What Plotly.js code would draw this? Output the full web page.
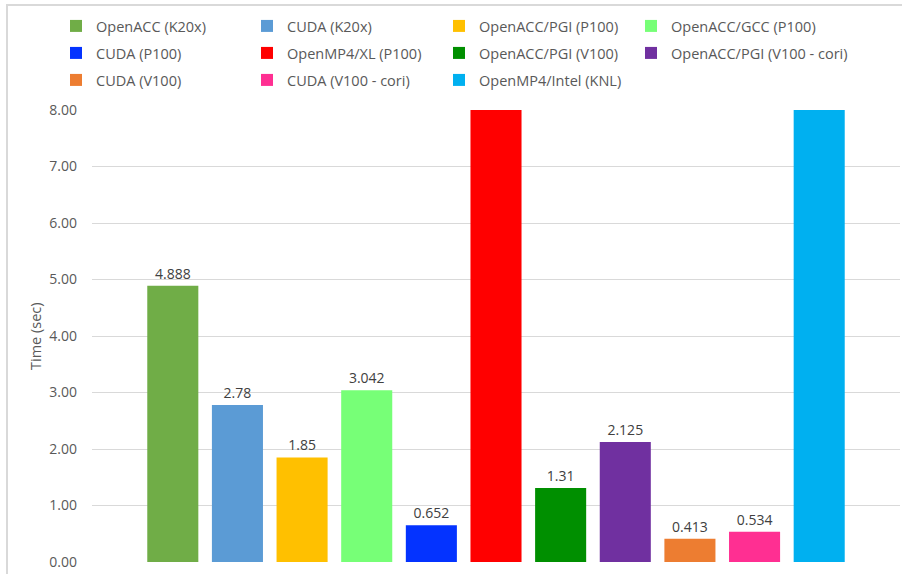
<!DOCTYPE html>
<html>
<head>
<meta charset="utf-8">
<script src="https://cdn.plot.ly/plotly-3.0.1.min.js"></script>
<style>html,body{margin:0;padding:0;background:#fff;}#chart{width:902px;height:574px;}</style>
</head>
<body>
<div id="chart"></div>
<script>
// Data
const seriesNames = [
  "OpenACC (K20x)", "CUDA (K20x)", "OpenACC/PGI (P100)", "OpenACC/GCC (P100)",
  "CUDA (P100)", "OpenMP4/XL (P100)", "OpenACC/PGI (V100)", "OpenACC/PGI (V100 - cori)",
  "CUDA (V100)", "CUDA (V100 - cori)", "OpenMP4/Intel (KNL)"
];
// The two off-scale bars are clipped at 8.00 in the reference; values above are estimates.
const timesSec = [4.888, 2.78, 1.85, 3.042, 0.652, 12.0, 1.31, 2.125, 0.413, 0.534, 10.0];
const seriesColors = [
  "#70AD47", "#5B9BD5", "#FFC000", "#77FF77",
  "#0433FF", "#FF0000", "#008F00", "#7030A0",
  "#ED7D31", "#FF2F92", "#00B0F0"
];
const yTicks = [0, 1, 2, 3, 4, 5, 6, 7, 8];
const yMax = 8;
const yTitle = "Time (sec)";

const W = 902, H = 574;
const plotL = 92, plotR = 900, plotT = 110, plotB = 562;
const pw = plotR - plotL, ph = plotB - plotT;

// legend grid: 4 columns, row-major
const legendColText = [97, 288, 480, 672];
const legendRowY = [26, 53, 80];
const legendKey = i => (i === 0 ? "legend" : "legend" + (i + 1));

const traces = seriesNames.map((name, i) => ({
  type: "bar",
  name: name,
  x: [name],
  y: [timesSec[i]],
  text: [timesSec[i] > yMax ? "" : String(timesSec[i])],
  textposition: "outside",
  cliponaxis: true,
  textfont: {family: "Open Sans, sans-serif", size: 14, color: "#404040"},
  marker: {color: seriesColors[i], line: {width: 0}},
  width: 0.79,
  legend: legendKey(i),
  hoverinfo: "skip"
}));

const layout = {
  width: W, height: H,
  margin: {l: plotL, r: W - plotR, t: plotT, b: H - plotB, pad: 0, autoexpand: false},
  paper_bgcolor: "#ffffff",
  plot_bgcolor: "#ffffff",
  barmode: "overlay",
  showlegend: true,
  font: {family: "Open Sans, sans-serif", color: "#595959"},
  xaxis: {
    type: "category",
    range: [-1.25, 11.25],
    showticklabels: false,
    showgrid: false, zeroline: false, showline: false, ticks: "",
    automargin: false,
    fixedrange: true
  },
  yaxis: {
    range: [0, yMax],
    tickvals: yTicks,
    tickformat: ".2f",
    showgrid: true, gridcolor: "#D9D9D9", gridwidth: 1,
    zeroline: false, showline: false, ticks: "",
    ticklabelstandoff: 14,
    automargin: false,
    tickfont: {family: "Open Sans, sans-serif", size: 14, color: "#595959"},
    fixedrange: true
  },
  annotations: [{
    text: yTitle,
    xref: "paper", yref: "paper",
    x: (35 - plotL) / pw, y: 0.5,
    xanchor: "center", yanchor: "middle",
    textangle: -90,
    showarrow: false,
    font: {family: "Open Sans, sans-serif", size: 14.5, color: "#595959"}
  }],
  shapes: [{
    type: "rect", xref: "paper", yref: "paper",
    x0: (7 - plotL) / pw, x1: 1.2,
    y0: -0.2, y1: (plotB - 5) / ph,
    line: {color: "#D9D9D9", width: 2},
    fillcolor: "rgba(0,0,0,0)",
    layer: "below"
  }]
};

seriesNames.forEach((name, i) => {
  const col = i % 4, row = Math.floor(i / 4);
  layout[legendKey(i)] = {
    orientation: "v",
    xref: "container", yref: "container",
    xanchor: "left", yanchor: "middle",
    x: (legendColText[col] - 41) / W,
    y: 1 - legendRowY[row] / H,
    font: {family: "Open Sans, sans-serif", size: 14.5, color: "#595959"},
    bgcolor: "rgba(0,0,0,0)",
    borderwidth: 0,
    itemclick: false, itemdoubleclick: false
  };
});

Plotly.newPlot("chart", traces, layout, {staticPlot: true, displayModeBar: false});
</script>
</body>
</html>
